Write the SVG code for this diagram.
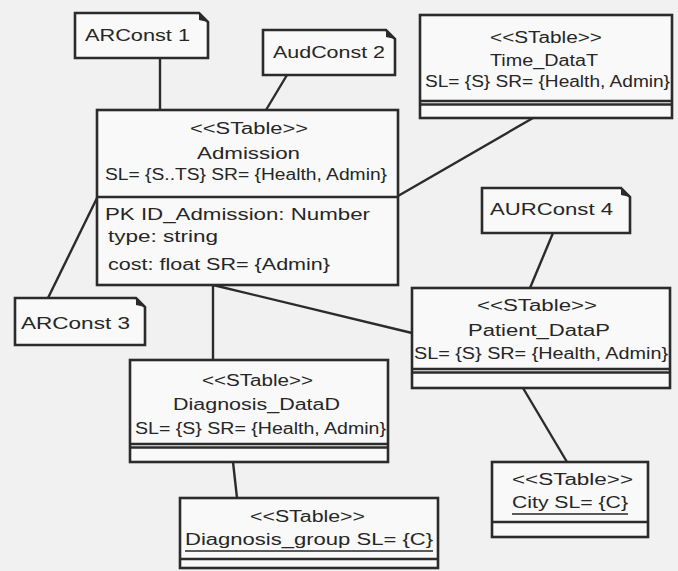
<svg xmlns="http://www.w3.org/2000/svg" width="678" height="571" viewBox="0 0 678 571">
<style>
.bg{fill:#f1f1f1}
.box{fill:#f9f9f9;stroke:#2b2b2b;stroke-width:2.6}
.div{stroke:#2b2b2b;stroke-width:2.4;fill:none}
.fold{fill:#2b2b2b}
.t{font-family:"Liberation Sans",Arial,sans-serif;font-size:16px;fill:#262626}
.c{text-anchor:start}
.ul{stroke:#262626;stroke-width:1.5}
#connectors line{stroke:#2b2b2b;stroke-width:2.4}
</style>
<rect class="bg" x="0" y="0" width="678" height="571"/>
<g id="connectors">
<line x1="160" y1="58" x2="160" y2="110"/>
<line x1="287" y1="75" x2="266" y2="110"/>
<line x1="533" y1="118" x2="398" y2="196"/>
<line x1="48" y1="298" x2="97" y2="198"/>
<line x1="213" y1="285" x2="412" y2="333"/>
<line x1="213" y1="285" x2="213" y2="360"/>
<line x1="553" y1="233" x2="530" y2="288"/>
<line x1="233" y1="462" x2="237" y2="498"/>
<line x1="523" y1="388" x2="567" y2="462"/>
</g>
<g id="ARConst1">
<path class="box" d="M75,13 H199 L208,22 V58 H75 Z"/>
<path class="fold" d="M199,13 L208,22 L199,20 Z"/>
<text class="t" x="85" y="41" font-size="18" textLength="105" lengthAdjust="spacingAndGlyphs">ARConst 1</text>
</g>
<g id="AudConst2">
<path class="box" d="M263,30 H386 L395,39 V75 H263 Z"/>
<path class="fold" d="M386,30 L395,39 L386,37 Z"/>
<text class="t" x="273" y="58" font-size="18" textLength="112" lengthAdjust="spacingAndGlyphs">AudConst 2</text>
</g>
<g id="Admission">
<rect class="box" x="97" y="110" width="301" height="175"/>
<line class="div" x1="97" y1="197" x2="398" y2="197"/>
<text class="t" x="190" y="134" textLength="118" lengthAdjust="spacingAndGlyphs">&lt;&lt;STable&gt;&gt;</text>
<text class="t" x="197" y="159" font-size="17" textLength="103" lengthAdjust="spacingAndGlyphs">Admission</text>
<text class="t" x="105" y="180" textLength="282" lengthAdjust="spacingAndGlyphs">SL= {S..TS} SR= {Health, Admin}</text>
<text class="t" x="105" y="220" font-size="17" textLength="265" lengthAdjust="spacingAndGlyphs">PK ID_Admission: Number</text>
<text class="t" x="108" y="242" font-size="17" textLength="110" lengthAdjust="spacingAndGlyphs">type: string</text>
<text class="t" x="108" y="270" font-size="17" textLength="222" lengthAdjust="spacingAndGlyphs">cost: float  SR= {Admin}</text>
</g>
<g id="Time_DataT">
<rect class="box" x="420" y="15" width="252" height="103"/>
<line class="div" x1="420" y1="101" x2="672" y2="101"/>
<line class="div" x1="420" y1="104.5" x2="672" y2="104.5"/>
<text class="t" x="490" y="43" textLength="112" lengthAdjust="spacingAndGlyphs">&lt;&lt;STable&gt;&gt;</text>
<text class="t" x="490" y="66" font-size="17" textLength="108" lengthAdjust="spacingAndGlyphs">Time_DataT</text>
<text class="t" x="425" y="87" textLength="245" lengthAdjust="spacingAndGlyphs">SL= {S} SR= {Health, Admin}</text>
</g>
<g id="AURConst4">
<path class="box" d="M482,188 H621 L630,197 V233 H482 Z"/>
<path class="fold" d="M621,188 L630,197 L621,195 Z"/>
<text class="t" x="490" y="215" font-size="18" textLength="123" lengthAdjust="spacingAndGlyphs">AURConst 4</text>
</g>
<g id="ARConst3">
<path class="box" d="M15,298 H136 L145,307 V345 H15 Z"/>
<path class="fold" d="M136,298 L145,307 L136,305 Z"/>
<text class="t" x="21" y="329" font-size="18" textLength="109" lengthAdjust="spacingAndGlyphs">ARConst 3</text>
</g>
<g id="Patient_DataP">
<rect class="box" x="412" y="288" width="258" height="100"/>
<line class="div" x1="412" y1="369" x2="670" y2="369"/>
<line class="div" x1="412" y1="372.5" x2="670" y2="372.5"/>
<text class="t" x="477" y="311" textLength="120" lengthAdjust="spacingAndGlyphs">&lt;&lt;STable&gt;&gt;</text>
<text class="t" x="468" y="336" font-size="17" textLength="142" lengthAdjust="spacingAndGlyphs">Patient_DataP</text>
<text class="t" x="414" y="359" textLength="254" lengthAdjust="spacingAndGlyphs">SL= {S} SR= {Health, Admin}</text>
</g>
<g id="Diagnosis_DataD">
<rect class="box" x="130" y="360" width="258" height="102"/>
<line class="div" x1="130" y1="444" x2="388" y2="444"/>
<line class="div" x1="130" y1="447.5" x2="388" y2="447.5"/>
<text class="t" x="202" y="386" textLength="111" lengthAdjust="spacingAndGlyphs">&lt;&lt;STable&gt;&gt;</text>
<text class="t" x="173" y="410" font-size="17" textLength="167" lengthAdjust="spacingAndGlyphs">Diagnosis_DataD</text>
<text class="t" x="135" y="434" textLength="251" lengthAdjust="spacingAndGlyphs">SL= {S} SR= {Health, Admin}</text>
</g>
<g id="Diagnosis_group">
<rect class="box" x="180" y="498" width="258" height="70"/>
<line class="div" x1="180" y1="559" x2="438" y2="559"/>
<text class="t" x="250" y="522" textLength="115" lengthAdjust="spacingAndGlyphs">&lt;&lt;STable&gt;&gt;</text>
<text class="t" x="185" y="545" textLength="248" lengthAdjust="spacingAndGlyphs">Diagnosis_group SL= {C}</text>
<line class="ul" x1="185" y1="551" x2="433" y2="551"/>
</g>
<g id="City">
<rect class="box" x="492" y="462" width="156" height="75"/>
<line class="div" x1="492" y1="522" x2="648" y2="522"/>
<text class="t" x="512" y="485" textLength="121" lengthAdjust="spacingAndGlyphs">&lt;&lt;STable&gt;&gt;</text>
<text class="t" x="512" y="508" textLength="116" lengthAdjust="spacingAndGlyphs">City SL= {C}</text>
<line class="ul" x1="512" y1="514" x2="628" y2="514"/>
</g>
</svg>
